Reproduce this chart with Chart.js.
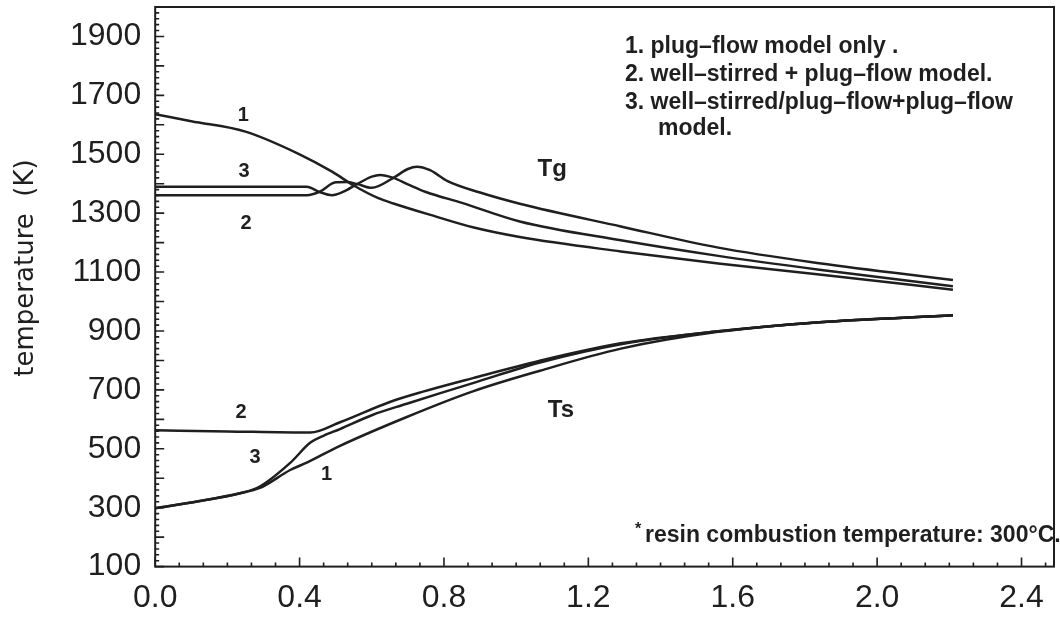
<!DOCTYPE html>
<html>
<head>
<meta charset="utf-8">
<script src="https://cdn.jsdelivr.net/npm/chart.js@4.4.1/dist/chart.umd.min.js"></script>
<style>
  html, body { margin: 0; padding: 0; background: #fff; }
</style>
</head>
<body>
<canvas id="chart" width="1060" height="623"></canvas>
<script>
// values (x = position, y = temperature in K)
// Tg, curve 1: plug-flow model only
const tg1X = [0, 0.1, 0.25, 0.4, 0.49, 0.55, 0.62, 0.66, 0.76, 0.88, 1.01, 1.29, 1.56, 1.84, 2.21];
const tg1Y = [1636, 1612, 1577, 1500, 1441, 1394, 1350, 1333, 1295, 1252, 1219, 1170, 1129, 1092, 1040];
// Tg, curve 2: well-stirred + plug-flow
const tg2X = [0, 0.42, 0.455, 0.5, 0.53, 0.56, 0.6, 0.66, 0.7, 0.725, 0.76, 0.81, 0.9, 1.01, 1.29, 1.56, 1.84, 2.21];
const tg2Y = [1361, 1361, 1372, 1405, 1406, 1399, 1386, 1420, 1450, 1458, 1447, 1409, 1370, 1332, 1255, 1183, 1130, 1073];
// Tg, curve 3: well-stirred/plug-flow + plug-flow
const tg3X = [0, 0.42, 0.455, 0.49, 0.52, 0.56, 0.6, 0.623, 0.66, 0.7, 0.75, 0.85, 1.01, 1.29, 1.56, 1.84, 2.21];
const tg3Y = [1390, 1390, 1372, 1361, 1372, 1399, 1424, 1430, 1420, 1398, 1372, 1335, 1272, 1208, 1155, 1108, 1052];
// Ts curves
const ts1X = [0, 0.12, 0.235, 0.29, 0.374, 0.42, 0.512, 0.697, 0.88, 1.066, 1.29, 1.56, 1.84, 2.21];
const ts1Y = [298, 322, 349, 367, 428, 453, 510, 608, 695, 765, 840, 897, 930, 953];
const ts2X = [0, 0.2, 0.43, 0.512, 0.65, 0.742, 0.88, 1.066, 1.29, 1.56, 1.84, 2.21];
const ts2Y = [563, 559, 555, 590, 659, 694, 740, 799, 858, 899, 930, 953];
const ts3X = [0, 0.12, 0.235, 0.29, 0.374, 0.43, 0.466, 0.512, 0.6, 0.697, 0.79, 0.88, 1.066, 1.29, 1.56, 1.84, 2.21];
const ts3Y = [298, 322, 349, 372, 452, 521, 544, 567, 614, 653, 689, 723, 793, 855, 899, 930, 953];

// tick labels
const xTickLabels = ["0.0", "0.4", "0.8", "1.2", "1.6", "2.0", "2.4"];
const yTickLabels = ["100", "300", "500", "700", "900", "1100", "1300", "1500", "1700", "1900"];

// texts in the figure
const legendLines = ["1. plug\u2013flow model only .", "2. well\u2013stirred + plug\u2013flow model.",
                     "3. well\u2013stirred/plug\u2013flow+plug\u2013flow", "model."];
const footnote = "resin combustion temperature: 300\u00b0C.";
const yTitle = "temperature  (K)";
const curveNotes = [
  { t: "1", x: 0.244, y: 1632 }, { t: "3", x: 0.246, y: 1442 }, { t: "2", x: 0.252, y: 1265 },
  { t: "Tg", x: 1.10, y: 1447 }, { t: "Ts", x: 1.124, y: 631 },
  { t: "2", x: 0.238, y: 622 }, { t: "3", x: 0.277, y: 470 }, { t: "1", x: 0.475, y: 414 }
];

const INK = "#1f1f1f";
const X_MAX = 2.49, X_MINOR = 0.4 / 6;
const Y_MIN = 100, Y_MAX = 2000, Y_MINOR = 20;

function pts(xs, ys) { return xs.map((x, i) => ({ x, y: ys[i] })); }
function line(label, xs, ys) {
  return { label, data: pts(xs, ys), borderColor: INK, borderWidth: 2.5,
           pointRadius: 0, cubicInterpolationMode: "monotone", fill: false };
}

// frame, inward ticks and all the lettering
const decor = {
  id: "decor",
  afterDraw(chart) {
    const { ctx, chartArea: a, scales: { x, y } } = chart;
    ctx.save();
    ctx.strokeStyle = INK;
    ctx.lineWidth = 2;
    ctx.strokeRect(a.left, a.top, a.right - a.left, a.bottom - a.top);

    ctx.lineWidth = 1.6;
    ctx.beginPath();
    y.ticks.forEach(t => {
      const py = y.getPixelForValue(t.value);
      const len = t.value % 100 === 0 ? 9 : 4;
      ctx.moveTo(a.left, py); ctx.lineTo(a.left + len, py);
    });
    x.ticks.forEach((t, i) => {
      const px = x.getPixelForValue(t.value);
      const len = i % 6 === 0 ? 9 : 4;
      ctx.moveTo(px, a.bottom); ctx.lineTo(px, a.bottom - len);
    });
    ctx.stroke();

    ctx.fillStyle = INK;
    // curve numbers, Tg / Ts
    ctx.textAlign = "center";
    ctx.textBaseline = "middle";
    curveNotes.forEach(n => {
      ctx.font = n.t.length > 1 ? "bold 24px 'Liberation Sans'" : "bold 20px 'Liberation Sans'";
      ctx.fillText(n.t, x.getPixelForValue(n.x), y.getPixelForValue(n.y));
    });

    // legend block
    ctx.textAlign = "left";
    ctx.textBaseline = "alphabetic";
    ctx.font = "bold 23px 'Liberation Sans'";
    ctx.fillText(legendLines[0], 625, 53);
    ctx.fillText(legendLines[1], 625, 81);
    ctx.fillText(legendLines[2], 625, 109);
    ctx.fillText(legendLines[3], 658, 135);

    // footnote
    ctx.fillText(footnote, 645, 542);
    ctx.font = "bold 16px 'Liberation Sans'";
    ctx.fillText("*", 635, 534);

    // y title
    ctx.translate(26, 268);
    ctx.rotate(-Math.PI / 2);
    ctx.textAlign = "center";
    ctx.textBaseline = "middle";
    ctx.font = "26px 'DejaVu Sans'";
    ctx.fillText(yTitle, 0, 0);
    ctx.restore();
  }
};

new Chart(document.getElementById("chart"), {
  type: "line",
  data: {
    datasets: [
      line("Tg 1", tg1X, tg1Y), line("Tg 2", tg2X, tg2Y), line("Tg 3", tg3X, tg3Y),
      line("Ts 1", ts1X, ts1Y), line("Ts 2", ts2X, ts2Y), line("Ts 3", ts3X, ts3Y)
    ]
  },
  options: {
    responsive: false,
    animation: false,
    layout: { padding: { left: 70, right: 6, top: 7, bottom: 6 } },
    plugins: { legend: { display: false }, tooltip: { enabled: false } },
    scales: {
      x: {
        type: "linear", min: 0, max: X_MAX,
        grid: { display: false, drawTicks: true, tickLength: 12 },
        border: { display: false },
        afterBuildTicks(scale) {
          const t = [];
          for (let i = 0; i * X_MINOR <= X_MAX + 1e-9; i++) t.push({ value: i * X_MINOR });
          scale.ticks = t;
        },
        ticks: {
          autoSkip: false, maxRotation: 0, padding: 0, color: INK,
          font: { family: "'Liberation Sans', Arial, sans-serif", size: 32 },
          callback(v, i) { return i % 6 === 0 ? (xTickLabels[i / 6] || "") : ""; }
        }
      },
      y: {
        min: Y_MIN, max: Y_MAX,
        grid: { display: false, drawTicks: true, tickLength: 14 },
        border: { display: false },
        afterBuildTicks(scale) {
          const t = [];
          for (let v = Y_MIN; v <= Y_MAX; v += Y_MINOR) t.push({ value: v });
          scale.ticks = t;
        },
        ticks: {
          autoSkip: false, padding: 0, color: INK,
          font: { family: "'Liberation Sans', Arial, sans-serif", size: 32, lineHeight: 0.4 },
          callback(v) { return (v - Y_MIN) % 200 === 0 ? (yTickLabels[(v - Y_MIN) / 200] || "") : ""; }
        }
      }
    }
  },
  plugins: [decor]
});
</script>
</body>
</html>
